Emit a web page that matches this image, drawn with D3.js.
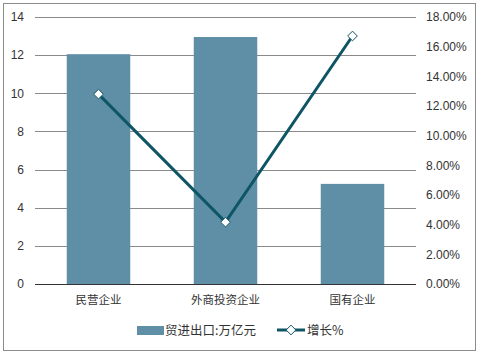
<!DOCTYPE html>
<html><head><meta charset="utf-8">
<script src="https://cdn.jsdelivr.net/npm/d3@7"></script>
<style>body{margin:0;background:#fff}</style>
</head><body>
<script>
const categories = ["民营企业", "外商投资企业", "国有企业"];
const tradeValues = [12.05, 12.95, 5.25];
const growthValues = [12.8, 4.17, 16.72];
const leftTicks = [0, 2, 4, 6, 8, 10, 12, 14];
const rightTicks = [0, 2, 4, 6, 8, 10, 12, 14, 16, 18];
const seriesNames = ["贸进出口:万亿元", "增长%"];

(function () {
const W = 480, H = 356;
const svg = d3.select("body").append("svg").attr("width", W).attr("height", H);
svg.append("rect").attr("x", 3.5).attr("y", 3.5).attr("width", 472).attr("height", 347)
  .attr("fill", "#fff").attr("stroke", "#8c8c8c").attr("stroke-width", 1);

const pL = 35, pR = 416, pT = 17, pB = 284;
const x = d3.scaleBand().domain(categories).range([pL, pR]).paddingInner(0.5).paddingOuter(0.25);
const y = d3.scaleLinear().domain([0, 14]).range([pB, pT]);
const y2 = d3.scaleLinear().domain([0, 18]).range([pB, pT]);

const font = "'Liberation Sans', Arial, sans-serif";
const cjk = "'Noto Sans CJK SC', sans-serif";

// grid
svg.append("g").selectAll("line").data(leftTicks.filter(d => d > 0)).join("line")
  .attr("x1", pL).attr("x2", pR)
  .attr("y1", d => Math.round(y(d)) + 0.5).attr("y2", d => Math.round(y(d)) + 0.5)
  .attr("stroke", "#8a8a8a").attr("stroke-width", 1);

// bars
svg.append("g").selectAll("rect").data(tradeValues).join("rect")
  .attr("x", (d, i) => x(categories[i])).attr("width", x.bandwidth())
  .attr("y", d => y(d)).attr("height", d => y(0) - y(d))
  .attr("fill", "#5f8fa6");

// baseline
svg.append("line").attr("x1", pL).attr("x2", pR)
  .attr("y1", Math.round(y(0)) + 0.5).attr("y2", Math.round(y(0)) + 0.5)
  .attr("stroke", "#333").attr("stroke-width", 1.2);

// left axis
const ly = d3.axisLeft(y).tickValues(leftTicks).tickSize(0).tickPadding(0);
const gL = svg.append("g").attr("transform", `translate(24,0)`).call(ly);
gL.select(".domain").remove();
gL.selectAll("text").attr("font-family", font).attr("font-size", 12).attr("fill", "#333");

// right axis
const ry = d3.axisRight(y2).tickValues(rightTicks).tickSize(0).tickPadding(0)
  .tickFormat(d => d.toFixed(2) + "%");
const gR = svg.append("g").attr("transform", `translate(426,0)`).call(ry);
gR.select(".domain").remove();
gR.selectAll("text").attr("font-family", font).attr("font-size", 12).attr("fill", "#333");

// category labels
const xa = d3.axisBottom(x).tickSize(0).tickPadding(0);
const gX = svg.append("g").attr("transform", `translate(0,${pB + 12})`).call(xa);
gX.select(".domain").remove();
gX.selectAll("text").attr("font-family", cjk).attr("font-size", 11.5).attr("fill", "#333");

// line
const cx = (i) => x(categories[i]) + x.bandwidth() / 2;
const line = d3.line().x((d, i) => cx(i)).y(d => y2(d));
svg.append("path").datum(growthValues).attr("d", line)
  .attr("fill", "none").attr("stroke", "#0e5566").attr("stroke-width", 3);
const diamond = d3.symbol().type(d3.symbolDiamond2).size(60);
svg.append("g").selectAll("path").data(growthValues).join("path")
  .attr("transform", (d, i) => `translate(${cx(i)},${y2(d)})`)
  .attr("d", diamond).attr("fill", "#fff").attr("stroke", "#0e5566").attr("stroke-width", 1);

// legend
const lg = svg.append("g");
lg.append("rect").attr("x", 137).attr("y", 326).attr("width", 27).attr("height", 9).attr("fill", "#5f8fa6");
lg.append("text").attr("x", 165).attr("y", 335).text(seriesNames[0])
  .attr("font-family", cjk).attr("font-size", 12.5).attr("fill", "#333");
lg.append("line").attr("x1", 277).attr("x2", 305).attr("y1", 330).attr("y2", 330)
  .attr("stroke", "#0e5566").attr("stroke-width", 3);
lg.append("path").attr("transform", "translate(291,330)").attr("d", diamond)
  .attr("fill", "#fff").attr("stroke", "#0e5566").attr("stroke-width", 1);
lg.append("text").attr("x", 307).attr("y", 335).text(seriesNames[1])
  .attr("font-family", cjk).attr("font-size", 12.5).attr("fill", "#333");
})();
</script>
</body></html>
